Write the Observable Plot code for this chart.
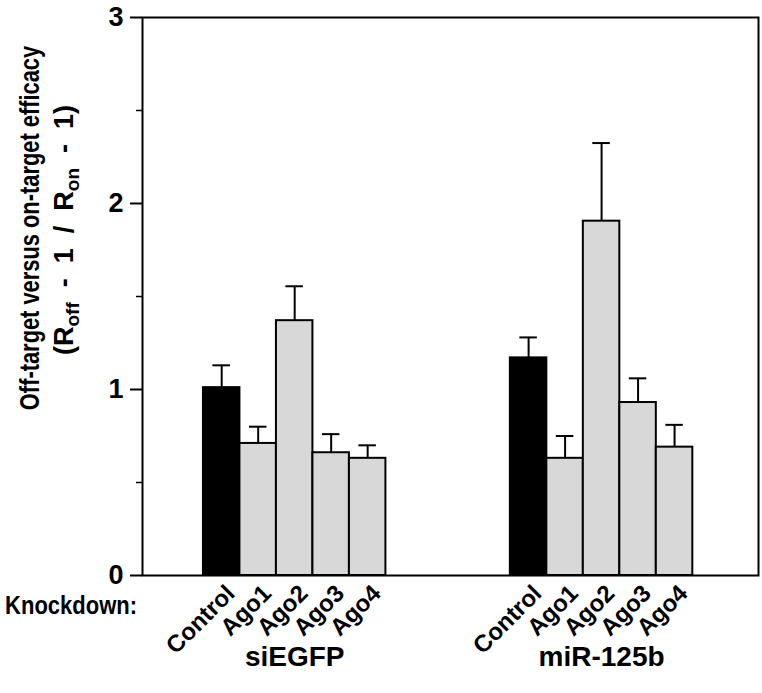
<!DOCTYPE html>
<html>
<head>
<meta charset="utf-8">
<script src="https://cdn.jsdelivr.net/npm/d3@7"></script>
<script src="https://cdn.jsdelivr.net/npm/@observablehq/plot@0.6"></script>
<style>
  html, body { margin: 0; padding: 0; background: #fff; }
  #chart svg { display: block; }
</style>
</head>
<body>
<div id="chart"></div>
<script>
// ---- data ----
const groups = ["siEGFP", "miR-125b"];
const knockdowns = ["Control", "Ago1", "Ago2", "Ago3", "Ago4"];
const siEGFPValues = [1.01, 0.71, 1.37, 0.66, 0.63];
const siEGFPErrors = [0.12, 0.09, 0.185, 0.10, 0.07];
const mir125bValues = [1.17, 0.63, 1.905, 0.93, 0.69];
const mir125bErrors = [0.11, 0.12, 0.42, 0.13, 0.12];
const yTicks = [0, 1, 2, 3];
const yMinorTicks = [0.5, 1.5, 2.5];
const rowLabel = "Knockdown:";
const yTitle1 = "Off-target versus on-target efficacy";

// ---- layout (x in bar-width units) ----
const groupStart = [1.67, 10.08];
const xMax = 16.88;
const seriesValues = [siEGFPValues, mir125bValues];
const seriesErrors = [siEGFPErrors, mir125bErrors];

const rows = [];
groups.forEach((g, gi) => {
  knockdowns.forEach((k, ki) => {
    const x1 = groupStart[gi] + ki;
    rows.push({
      group: g, knockdown: k,
      x1, x2: x1 + 1, xc: x1 + 0.5,
      value: seriesValues[gi][ki],
      top: seriesValues[gi][ki] + seriesErrors[gi][ki]
    });
  });
});
const groupRows = groups.map((g, gi) => ({group: g, xc: groupStart[gi] + knockdowns.length / 2}));

const FONT = '"Liberation Sans", Arial, Helvetica, sans-serif';

const chart = Plot.plot({
  width: 762,
  height: 693,
  marginLeft: 142,
  marginRight: 4,
  marginTop: 17,
  marginBottom: 118,
  style: {fontFamily: FONT, fontWeight: "bold", color: "black", background: "white"},
  x: {domain: [0, xMax], axis: null},
  y: {domain: [0, 3], axis: null},
  marks: [
    Plot.ruleX(rows, {x: "xc", y1: "value", y2: "top", stroke: "black", strokeWidth: 2}),
    Plot.ruleY(rows, {y: "top", x1: d => d.xc - 0.24, x2: d => d.xc + 0.24, stroke: "black", strokeWidth: 2}),
    Plot.rectY(rows, {
      x1: "x1", x2: "x2", y1: 0, y2: "value",
      fill: d => d.knockdown === "Control" ? "black" : "#d8d8d8",
      stroke: "black", strokeWidth: 2
    }),
    Plot.frame({stroke: "black", strokeWidth: 2}),
    Plot.axisY({ticks: yTicks, tickFormat: d3.format("d"), tickSize: 12, tickPadding: 7, fontSize: 27, fontWeight: "bold", label: null, strokeWidth: 2}),
    Plot.axisY({ticks: yMinorTicks, tickSize: 6, tickFormat: () => "", label: null, strokeWidth: 1.5}),
    Plot.text(rows, {
      x: "xc", frameAnchor: "bottom", text: "knockdown", rotate: -45,
      textAnchor: "end", lineAnchor: "middle", dx: 9, dy: 14, fontSize: 24, fontWeight: "bold"
    }),
    Plot.text(groupRows, {x: "xc", frameAnchor: "bottom", text: "group", dy: 90, fontSize: 28, fontWeight: "bold"})
  ]
});

document.getElementById("chart").appendChild(chart);

const svg = d3.select(chart);

// row label (condensed like the reference's Helvetica)
svg.append("text")
  .attr("transform", "translate(137,606) scale(0.88,1)")
  .attr("text-anchor", "end")
  .attr("dominant-baseline", "central")
  .attr("font-size", 25)
  .attr("font-weight", "bold")
  .attr("font-family", FONT)
  .attr("fill", "black")
  .text(rowLabel);

// y axis title with subscripts
svg.append("text")
  .attr("transform", "translate(30,228) rotate(-90) scale(0.81,1)")
  .attr("text-anchor", "middle")
  .attr("dominant-baseline", "central")
  .attr("font-size", 27)
  .attr("font-weight", "bold")
  .attr("font-family", FONT)
  .attr("fill", "black")
  .text(yTitle1);

const t2 = svg.append("text")
  .attr("transform", "translate(64,230) rotate(-90)")
  .attr("text-anchor", "middle")
  .attr("dominant-baseline", "central")
  .attr("font-size", 27)
  .attr("font-weight", "bold")
  .attr("font-family", FONT)
  .attr("fill", "black");
const parts = [["(R", false], ["off", true], ["\u00a0 -\u00a0 1\u00a0 /\u00a0 R", false], ["on", true], ["\u00a0 -\u00a0 1)", false]];
parts.forEach(([s, sub]) => {
  const ts = t2.append("tspan").text(s);
  if (sub) ts.attr("font-size", 19).attr("dy", 8);
  else if (s !== "(R") ts.attr("dy", -8);
});
</script>
</body>
</html>
